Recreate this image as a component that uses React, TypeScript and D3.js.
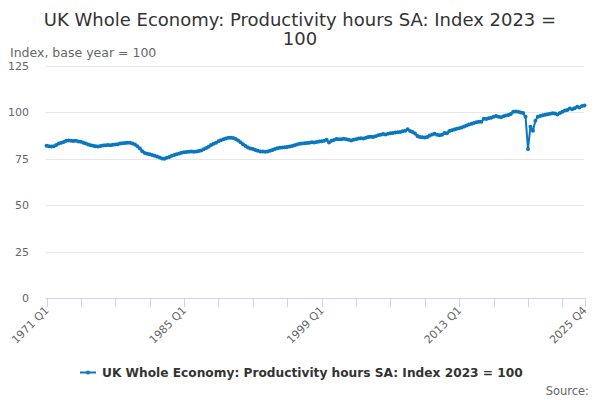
import React from "react";
import * as d3 from "d3";

const startYear = 1971;
const endYear = 2025;
const categories: string[] = [];
for (let y = startYear; y <= endYear; y++) for (let q = 1; q <= 4; q++) categories.push(`${y} Q${q}`);

const values: number[] = [
  82.0, 81.7, 81.6, 81.7,
  82.5, 83.2, 83.6, 84.1,
  84.7, 84.9, 84.7, 84.6,
  84.7, 84.3, 84.2, 83.7,
  83.2, 82.7, 82.3, 82.0,
  81.7, 81.6, 81.9, 82.2,
  82.3, 82.4, 82.3, 82.6,
  82.7, 82.9, 83.2, 83.4,
  83.5, 83.7, 83.6, 83.2,
  82.7, 81.7, 80.5, 79.1,
  78.1, 77.7, 77.4, 77.1,
  76.7, 76.3, 75.7, 75.2,
  75.0, 75.5, 76.0, 76.6,
  77.0, 77.4, 77.8, 78.2,
  78.5, 78.7, 78.8, 78.9,
  78.8, 79.0, 79.2, 79.5,
  80.1, 80.8, 81.5, 82.4,
  83.1, 83.7, 84.4, 85.0,
  85.5, 85.9, 86.3, 86.4,
  86.2, 85.7, 84.9, 83.9,
  82.9, 81.9, 81.1, 80.6,
  80.3, 79.8, 79.3, 79.0,
  78.9, 78.8, 79.0, 79.3,
  79.8, 80.3, 80.7, 80.9,
  81.1, 81.2, 81.4, 81.6,
  81.9, 82.3, 82.7, 83.1,
  83.3, 83.4, 83.5, 83.7,
  83.9, 83.8, 84.1, 84.3,
  84.5, 84.7, 85.2, 83.8,
  84.7, 85.1, 85.7, 85.5,
  85.6, 85.8, 85.5, 85.3,
  84.9, 85.3, 85.6, 85.9,
  86.1, 85.9, 86.3, 86.7,
  86.9, 86.7, 87.2, 87.7,
  87.9, 88.3, 88.1, 88.5,
  88.7, 88.9, 89.2, 89.3,
  89.5, 89.9, 90.1, 90.9,
  90.0, 89.5, 88.6, 87.3,
  86.7, 86.6, 86.5, 86.8,
  87.5, 88.1, 88.5, 88.0,
  87.7, 88.0, 88.9, 88.7,
  90.0, 90.4, 90.8, 91.2,
  91.5, 91.9, 92.4, 92.9,
  93.5, 93.9, 94.3, 94.7,
  95.0, 94.9, 96.6, 96.5,
  96.8, 97.1, 97.7, 98.1,
  97.6, 97.4, 97.9, 98.3,
  98.6, 99.2, 100.3, 100.5,
  100.4, 100.0, 99.7, 97.6,
  80.3, 92.3, 90.1, 95.5,
  97.7, 98.1, 98.5, 98.7,
  99.0, 99.3, 99.5, 99.4,
  98.9, 99.7, 100.3, 101.0,
  101.3, 102.1, 101.7, 102.3,
  103.1, 102.7, 103.4, 103.7,
];

const xTickLabels = ["1971 Q1", "1985 Q1", "1999 Q1", "2013 Q1", "2025 Q4"];
const yTicks = [0, 25, 50, 75, 100, 125];
const title1 = "UK Whole Economy: Productivity hours SA: Index 2023 =";
const title2 = "100";
const seriesName = "UK Whole Economy: Productivity hours SA: Index 2023 = 100";

const FONT = "'DejaVu Sans', Verdana, sans-serif";
const BLUE = "#0a77be";

export default function App() {
  const W = 600, H = 400;
  const x = d3.scaleLinear().domain([0, categories.length - 1]).range([46.5, 584.5]);
  const y = d3.scaleLinear().domain([0, 125]).range([298, 66]);
  const line = d3.line<number>().x((_, i) => x(i)).y((d) => y(d));
  const tickIdx: number[] = [];
  for (let i = 0; i < categories.length; i += 14) tickIdx.push(i);
  tickIdx.push(categories.length - 1);
  const labelIdx = xTickLabels.map((l) => categories.indexOf(l));

  return (
    <svg width={W} height={H} style={{ position: "absolute", left: 0, top: 0, fontFamily: FONT }}>
      <rect width={W} height={H} fill="#fff" />
      <text x={300} y={26} textAnchor="middle" fontSize={18} fill="#333">{title1}</text>
      <text x={300} y={45} textAnchor="middle" fontSize={18} fill="#333">{title2}</text>
      <text x={10} y={57} fontSize={12.5} fill="#666">Index, base year = 100</text>
      {yTicks.map((t) => (
        <g key={t}>
          {t !== 0 && <line x1={46} x2={584} y1={Math.round(y(t)) + 0.5} y2={Math.round(y(t)) + 0.5} stroke="#e6e6e6" />}
          <text x={29} y={y(t) + 4} textAnchor="end" fontSize={11} fill="#666">{t}</text>
        </g>
      ))}
      <line x1={46} x2={585.5} y1={298.5} y2={298.5} stroke="#ccd6eb" />
      {tickIdx.map((i) => (
        <line key={i} x1={Math.round(x(i)) + 0.5} x2={Math.round(x(i)) + 0.5} y1={298} y2={307} stroke="#ccd6eb" />
      ))}
      {labelIdx.map((i, k) => (
        <text key={k} transform={`translate(${x(i) + 3},${311}) rotate(-45)`} textAnchor="end" fontSize={11} fill="#666">
          {xTickLabels[k]}
        </text>
      ))}
      <path d={line(values) || ""} fill="none" stroke={BLUE} strokeWidth={2} strokeLinejoin="round" />
      {values.map((v, i) => (
        <circle key={i} cx={x(i)} cy={y(v)} r={2} fill={BLUE} />
      ))}
      <line x1={80} x2={96} y1={372.5} y2={372.5} stroke={BLUE} strokeWidth={2} />
      <circle cx={88} cy={372.5} r={2} fill={BLUE} />
      <text x={102} y={377} fontSize={12.2} fontWeight="bold" fill="#333">{seriesName}</text>
      <text x={589} y={395} textAnchor="end" fontSize={11.5} fill="#666">Source:</text>
    </svg>
  );
}
